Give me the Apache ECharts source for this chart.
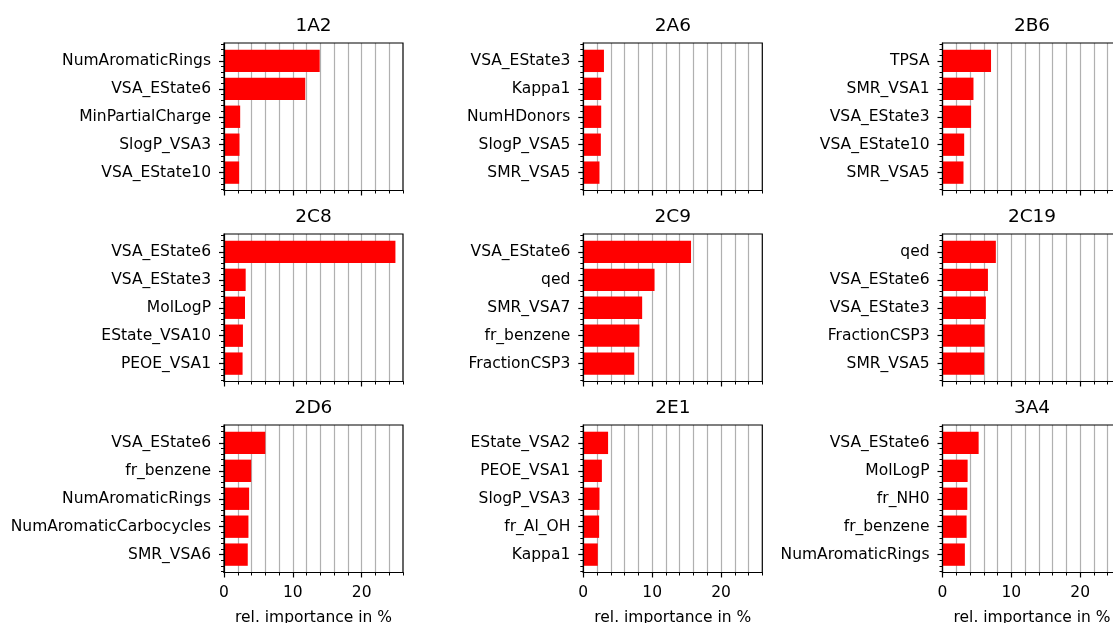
<!DOCTYPE html>
<html>
<head>
<meta charset="utf-8">
<script src="https://cdn.jsdelivr.net/npm/echarts@6/dist/echarts.min.js"></script>
<style>
  html, body { margin: 0; padding: 0; background: #ffffff; }
  #chart { width: 1113px; height: 623px; }
</style>
</head>
<body>
<div id="chart"></div>
<script>
// Top-5 descriptor importances per CYP isoform (rel. importance in %)
const isoforms = ['1A2', '2A6', '2B6', '2C8', '2C9', '2C19', '2D6', '2E1', '3A4'];

const features1A2 = ['NumAromaticRings', 'VSA_EState6', 'MinPartialCharge', 'SlogP_VSA3', 'VSA_EState10'];
const importance1A2 = [13.9, 11.8, 2.35, 2.25, 2.2];

const features2A6 = ['VSA_EState3', 'Kappa1', 'NumHDonors', 'SlogP_VSA5', 'SMR_VSA5'];
const importance2A6 = [3.0, 2.6, 2.6, 2.55, 2.35];

const features2B6 = ['TPSA', 'SMR_VSA1', 'VSA_EState3', 'VSA_EState10', 'SMR_VSA5'];
const importance2B6 = [7.05, 4.5, 4.15, 3.15, 3.05];

const features2C8 = ['VSA_EState6', 'VSA_EState3', 'MolLogP', 'EState_VSA10', 'PEOE_VSA1'];
const importance2C8 = [24.9, 3.15, 3.05, 2.75, 2.7];

const features2C9 = ['VSA_EState6', 'qed', 'SMR_VSA7', 'fr_benzene', 'FractionCSP3'];
const importance2C9 = [15.65, 10.35, 8.55, 8.15, 7.4];

const features2C19 = ['qed', 'VSA_EState6', 'VSA_EState3', 'FractionCSP3', 'SMR_VSA5'];
const importance2C19 = [7.75, 6.6, 6.3, 6.1, 6.05];

const features2D6 = ['VSA_EState6', 'fr_benzene', 'NumAromaticRings', 'NumAromaticCarbocycles', 'SMR_VSA6'];
const importance2D6 = [6.0, 3.95, 3.65, 3.55, 3.45];

const features2E1 = ['EState_VSA2', 'PEOE_VSA1', 'SlogP_VSA3', 'fr_Al_OH', 'Kappa1'];
const importance2E1 = [3.6, 2.7, 2.35, 2.3, 2.1];

const features3A4 = ['VSA_EState6', 'MolLogP', 'fr_NH0', 'fr_benzene', 'NumAromaticRings'];
const importance3A4 = [5.25, 3.65, 3.6, 3.5, 3.25];

const xMajorTicks = [0, 10, 20];
const xAxisTitle = 'rel. importance in %';

const panelFeatures = [features1A2, features2A6, features2B6, features2C8, features2C9,
                       features2C19, features2D6, features2E1, features3A4];
const panelImportance = [importance1A2, importance2A6, importance2B6, importance2C8, importance2C9,
                         importance2C19, importance2D6, importance2E1, importance3A4];

// ---- layout ----
const FONT = 'DejaVu Sans';
const X_MAX = 26;
const Y_MIN = -0.64, Y_MAX = 4.64;
const BAR_HEIGHT = 0.8;
const GRID_W = 179, GRID_H = 147.5;
const COL_LEFT = [224, 583.3, 942.5];
const ROW_TOP = [43, 234, 425];
const TITLE_GAP = 17;

// minor y ticks every 0.2 between the category positions
const yMinorTicks = [];
for (let k = -3; k <= 23; k++) {
  if (k % 5 !== 0) yMinorTicks.push(Math.round(k * 20) / 100);
}

function renderBar(params, api) {
  const v = api.value(0);
  const idx = api.value(1);
  const p0 = api.coord([0, idx]);
  const p1 = api.coord([v, idx]);
  const h = api.size([0, BAR_HEIGHT])[1];
  return {
    type: 'rect',
    shape: { x: p0[0], y: p0[1] - h / 2, width: p1[0] - p0[0], height: h },
    style: { fill: '#ff0000' }
  };
}

const grids = [], xAxes = [], yAxes = [], series = [], titles = [];

isoforms.forEach((name, i) => {
  const row = Math.floor(i / 3), col = i % 3;
  const left = COL_LEFT[col], top = ROW_TOP[row];
  const bottomRow = row === 2;

  grids.push({
    left: left, top: top, width: GRID_W, height: GRID_H,
    show: true, borderColor: '#000000', borderWidth: 1.2,
    backgroundColor: 'transparent', containLabel: false, outerBoundsMode: 'none', z: 1
  });

  titles.push({
    text: name, left: left + GRID_W / 2, top: top - TITLE_GAP,
    textAlign: 'center', textVerticalAlign: 'middle', padding: 0,
    textStyle: { fontFamily: FONT, fontSize: 18.5, fontWeight: 'normal', color: '#000000' }
  });

  // main x axis: spine, major ticks, labels
  xAxes.push({
    gridIndex: i, type: 'value', min: 0, max: X_MAX, position: 'bottom', z: 5,
    axisLine: { show: true, onZero: false, lineStyle: { color: '#000000', width: 1.2 } },
    axisTick: { show: true, customValues: xMajorTicks, length: 5, lineStyle: { color: '#000000', width: 1.2 } },
    axisLabel: {
      show: bottomRow, customValues: xMajorTicks, margin: 12,
      fontFamily: FONT, fontSize: 15.5, color: '#000000'
    },
    splitLine: { show: false },
    name: bottomRow ? xAxisTitle : '', nameLocation: 'middle', nameGap: 37,
    nameTextStyle: { fontFamily: FONT, fontSize: 15.5, color: '#000000', verticalAlign: 'top' }
  });
  // minor x axis: minor ticks and vertical grid lines every 2 %
  xAxes.push({
    gridIndex: i, type: 'value', min: 0, max: X_MAX, interval: 2, position: 'bottom', z: 0,
    axisLine: { show: false, onZero: false },
    axisTick: { show: true, length: 3, lineStyle: { color: '#000000', width: 1 } },
    axisLabel: { show: false },
    splitLine: { show: true, showMinLine: false, showMaxLine: false, lineStyle: { color: '#b0b0b0', width: 1.2 } }
  });

  const feats = panelFeatures[i];
  // main y axis: spine, category ticks, feature names
  yAxes.push({
    gridIndex: i, type: 'value', min: Y_MIN, max: Y_MAX, inverse: true, position: 'left', z: 5,
    axisLine: { show: true, onZero: false, lineStyle: { color: '#000000', width: 1.2 } },
    axisTick: { show: true, customValues: [0, 1, 2, 3, 4], length: 5, lineStyle: { color: '#000000', width: 1.2 } },
    axisLabel: {
      show: true, customValues: [0, 1, 2, 3, 4], margin: 13,
      fontFamily: FONT, fontSize: 15.5, color: '#000000',
      formatter: (v) => feats[Math.round(v)]
    },
    splitLine: { show: false }
  });
  // minor y ticks
  yAxes.push({
    gridIndex: i, type: 'value', min: Y_MIN, max: Y_MAX, inverse: true, position: 'left', z: 5,
    axisLine: { show: false, onZero: false },
    axisTick: { show: true, customValues: yMinorTicks, length: 3, lineStyle: { color: '#000000', width: 1 } },
    axisLabel: { show: false },
    splitLine: { show: false }
  });

  series.push({
    type: 'custom', name: name,
    xAxisIndex: 2 * i, yAxisIndex: 2 * i, z: 2,
    renderItem: renderBar,
    encode: { x: 0, y: 1 },
    data: panelImportance[i].map((v, k) => [v, k]),
    silent: true
  });
});

const chart = echarts.init(document.getElementById('chart'), null, { renderer: 'canvas' });
chart.setOption({
  backgroundColor: '#ffffff',
  animation: false,
  title: titles,
  grid: grids,
  xAxis: xAxes,
  yAxis: yAxes,
  series: series
});
</script>
</body>
</html>
